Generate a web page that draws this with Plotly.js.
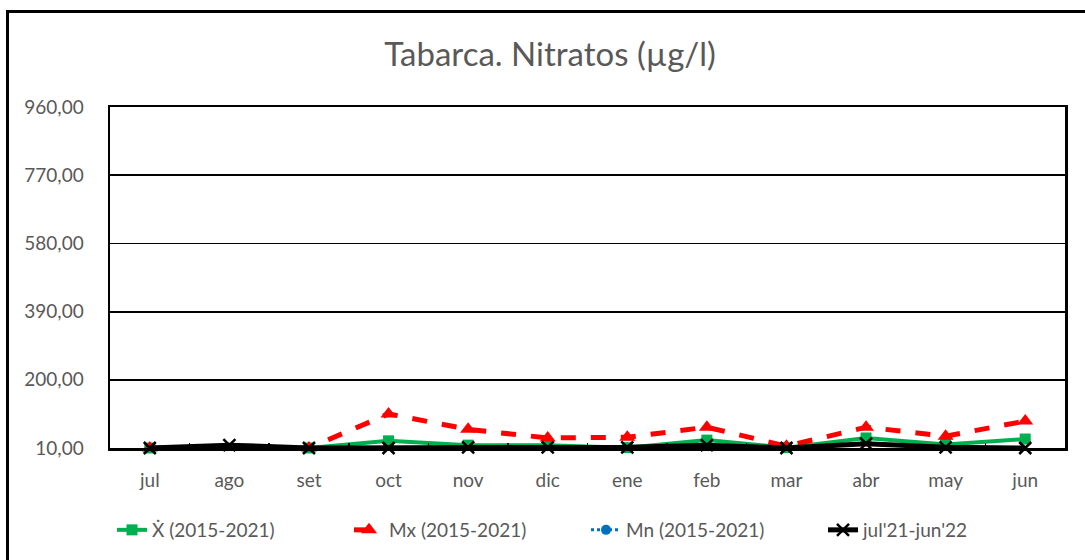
<!DOCTYPE html>
<html>
<head>
<meta charset="utf-8">
<script src="https://cdn.plot.ly/plotly-3.0.1.min.js"></script>
<style>
  html, body { margin: 0; padding: 0; background: #fff; overflow: hidden; }
  #chart { width: 1085px; height: 560px; }
  #frame { position: absolute; left: 6px; top: 10px; width: 1200px; height: 700px;
           border: 3px solid #000; pointer-events: none; box-sizing: border-box; }
</style>
</head>
<body>
<div id="chart"></div>
<div id="frame"></div>
<script>
const categories = ["jul","ago","set","oct","nov","dic","ene","feb","mar","abr","may","jun"];
const meanValues = [10, 9, 10, 30, 18, 18, 11, 32, 11, 38, 20, 35];
const maxValues  = [10, 7, 10, 105, 62, 38, 40, 68, 15, 68, 43, 85];
const minValues  = [5, 4, 4, 4, 4, 5, 4, 4, 4, 4, 4, 4];
const currentValues = [10, 18, 10, 10, 12, 12, 12, 18, 10, 22, 12, 10];
const yTicks = [10, 200, 390, 580, 770, 960];
const seriesNames = ["Ẋ (2015-2021)", "Mx (2015-2021)", "Mn (2015-2021)", "jul'21-jun'22"];

const fmt = v => v.toFixed(2).replace(".", ",");

const traces = [
  { x: categories, y: meanValues, name: seriesNames[0], type: "scatter", mode: "lines+markers",
    line: { color: "#00B050", width: 4 },
    marker: { symbol: "square", size: 11, color: "#00B050" }, cliponaxis: false },
  { x: categories, y: maxValues, name: seriesNames[1], type: "scatter", mode: "lines+markers",
    line: { color: "#FF0000", width: 5, dash: "dash" },
    marker: { symbol: "triangle-up", size: 14, color: "#FF0000" }, cliponaxis: false },
  { x: categories, y: minValues, name: seriesNames[2], type: "scatter", mode: "lines+markers",
    line: { color: "#0070C0", width: 3, dash: "dot" },
    marker: { symbol: "circle", size: 10, color: "#0070C0" }, cliponaxis: false },
  { x: categories, y: currentValues, name: seriesNames[3], type: "scatter", mode: "lines+markers",
    line: { color: "#000000", width: 5 },
    marker: { symbol: "x-thin", size: 12, color: "#000000", line: { color: "#000000", width: 2.5 } },
    cliponaxis: false }
];

const layout = {
  width: 1085, height: 560,
  margin: { l: 110, r: 20, t: 107, b: 112, autoexpand: false },
  paper_bgcolor: "#fff", plot_bgcolor: "#fff",
  font: { family: "Lato, 'Open Sans', sans-serif", color: "#595959", size: 18 },
  title: { text: "Tabarca. Nitratos (µg/l)", x: 0.507, xanchor: "center", y: 0.903, yanchor: "middle",
           font: { size: 33, color: "#595959", family: "Lato, 'Open Sans', sans-serif" } },
  xaxis: {
    type: "category", range: [-0.5, categories.length - 0.5], autorange: false,
    tickson: "boundaries", ticks: "inside", ticklen: 5, tickwidth: 1.5, tickcolor: "#000",
    showline: true, linecolor: "#000", linewidth: 2.5, mirror: true, showgrid: false, zeroline: false,
    ticklabelstandoff: 14, tickfont: { size: 19, color: "#595959" }, automargin: false
  },
  yaxis: {
    range: [10, 960], autorange: false, tickvals: yTicks, ticktext: yTicks.map(fmt), ticks: "",
    showline: true, linecolor: "#000", linewidth: 2.5, mirror: true,
    showgrid: true, gridcolor: "#000", gridwidth: 1.8, zeroline: false,
    ticklabelstandoff: 20, tickfont: { size: 19, color: "#595959" }, automargin: false
  },
  showlegend: true,
  legend: { orientation: "h", xref: "container", yref: "container", x: 112 / 1085, xanchor: "left",
            y: 1 - 530 / 560, yanchor: "middle", entrywidth: 192, entrywidthmode: "pixels",
            font: { size: 19, color: "#595959" }, traceorder: "normal" }
};

Plotly.newPlot("chart", traces, layout, { displayModeBar: false, staticPlot: true });
</script>
</body>
</html>
